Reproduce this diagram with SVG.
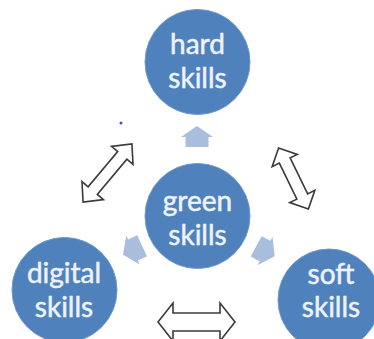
<svg xmlns="http://www.w3.org/2000/svg" width="374" height="339" viewBox="0 0 374 339">
<defs>
<style>
.node{fill:#4f81bd;stroke:#6f98cc;stroke-width:1}
.lbl{font-family:Lato,"Noto Sans",sans-serif;font-size:28px;fill:#eef3fa;stroke:#eef3fa;stroke-width:0.5;text-anchor:middle}
.blk{fill:#a9bddc}
.dbl{fill:#ffffff;stroke:#3a3a3a;stroke-width:1.6;stroke-linejoin:miter}
</style>
<path id="up" d="M0,-11 L16,0 L11.5,0 L11.5,10 L-11.5,10 L-11.5,0 L-16,0 Z"/>
</defs>
<rect width="374" height="339" fill="#ffffff"/>
<g id="connectors">
<use href="#up" class="blk" transform="translate(197,137)"/>
<use href="#up" class="blk" transform="translate(133,250) rotate(-115)"/>
<use href="#up" class="blk" transform="translate(265,251) rotate(118)"/>
<path class="dbl" transform="translate(107.5,173) rotate(-50)" d="M-38,0 L-23,-14 L-23,-6 L23,-6 L23,-14 L38,0 L23,14 L23,6 L-23,6 L-23,14 Z"/>
<path class="dbl" transform="translate(293.5,178.5) rotate(64)" d="M-34,0 L-20,-14 L-20,-6 L20,-6 L20,-14 L34,0 L20,14 L20,6 L-20,6 L-20,14 Z"/>
<path class="dbl" transform="translate(196.5,322)" d="M-38.5,0 L-23.5,-19 L-23.5,-9 L23.5,-9 L23.5,-19 L38.5,0 L23.5,19 L23.5,9 L-23.5,9 L-23.5,19 Z"/>
</g>
<circle cx="121" cy="123" r="1.5" fill="#5b3fc4"/>
<g id="hard">
<circle class="node" cx="197.5" cy="62" r="52.5"/>
<text class="lbl" x="197.5" y="54">hard</text>
<text class="lbl" x="197.5" y="88">skills</text>
</g>
<g id="green">
<circle class="node" cx="197.5" cy="216" r="52.5"/>
<text class="lbl" x="197.5" y="211">green</text>
<text class="lbl" x="197.5" y="245">skills</text>
</g>
<g id="digital">
<circle class="node" cx="64.5" cy="290" r="52.5"/>
<text class="lbl" x="64" y="283">digital</text>
<text class="lbl" x="64" y="317">skills</text>
</g>
<g id="soft">
<circle class="node" cx="329" cy="300" r="51"/>
<text class="lbl" x="331" y="284">soft</text>
<text class="lbl" x="331" y="317">skills</text>
</g>
</svg>
